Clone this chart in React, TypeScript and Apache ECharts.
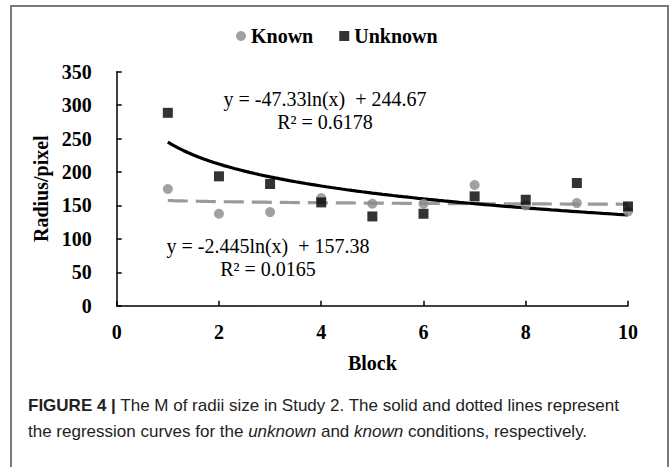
import React, { useEffect, useRef } from "react";
import * as echarts from "echarts";

// Data
const blocks = [1, 2, 3, 4, 5, 6, 7, 8, 9, 10];
const knownValues = [174.5, 137.5, 140, 161, 152.5, 152.5, 180.5, 150, 153.5, 141];
const unknownValues = [288.5, 193.5, 182, 154.5, 133.5, 137.5, 163.5, 158.5, 183.5, 148.5];

// Logarithmic trendline coefficients printed on the chart: y = a*ln(x) + b
const unknownTrend = { a: -47.33, b: 244.67 };
const knownTrend = { a: -2.445, b: 157.38 };

const unknownEqLines = ["y = -47.33ln(x)  + 244.67", "R² = 0.6178"];
const knownEqLines = ["y = -2.445ln(x)  + 157.38", "R² = 0.0165"];

const legendNames = ["Known", "Unknown"];
const xAxisName = "Block";
const yAxisName = "Radius/pixel";

const SERIF = "'Liberation Serif', 'Times New Roman', serif";
const SANS = "'Liberation Sans', Arial, sans-serif";

function trendPoints(t: { a: number; b: number }): number[][] {
  const pts: number[][] = [];
  const first = blocks[0];
  const last = blocks[blocks.length - 1];
  const steps = 90;
  for (let i = 0; i <= steps; i++) {
    const x = first + ((last - first) * i) / steps;
    pts.push([x, t.a * Math.log(x) + t.b]);
  }
  return pts;
}

export default function App() {
  const ref = useRef<HTMLDivElement>(null);

  useEffect(() => {
    document.body.style.margin = "0";
    if (!ref.current) return;
    const chart = echarts.init(ref.current, undefined, { renderer: "svg" });

    const eqText = (lines: string[], cx: number, cy: number) => ({
      type: "text",
      x: cx,
      y: cy,
      style: {
        text: lines.join("\n"),
        font: `20px ${SERIF}`,
        fill: "#000",
        align: "center",
        verticalAlign: "middle",
        lineHeight: 23,
      },
      z: 10,
    });

    chart.setOption({
      animation: false,
      backgroundColor: "#fff",
      grid: {
        left: 116.7,
        right: 42,
        top: 71.7,
        bottom: 161.3,
        containLabel: false,
        outerBoundsMode: "none",
      },
      legend: {
        data: [
          { name: legendNames[0], icon: "circle" },
          { name: legendNames[1], icon: "rect" },
        ],
        left: 231,
        top: 21,
        itemWidth: 10,
        itemHeight: 10,
        itemGap: 26,
        textStyle: {
          fontFamily: SERIF,
          fontWeight: "bold",
          fontSize: 20,
          color: "#000",
        },
      },
      xAxis: {
        type: "value",
        min: 0,
        max: 10,
        interval: 2,
        name: xAxisName,
        nameLocation: "middle",
        nameGap: 47,
        nameTextStyle: { fontFamily: SERIF, fontWeight: "bold", fontSize: 20, color: "#000" },
        axisLine: { show: true, lineStyle: { color: "#000", width: 1.5 } },
        axisTick: { show: true, inside: true, length: 5, lineStyle: { color: "#000", width: 1.5 } },
        axisLabel: { margin: 16, fontFamily: SERIF, fontWeight: "bold", fontSize: 20, color: "#000" },
        splitLine: { show: false },
      },
      yAxis: {
        type: "value",
        min: 0,
        max: 350,
        interval: 50,
        name: yAxisName,
        nameLocation: "middle",
        nameRotate: 90,
        nameGap: 61,
        nameTextStyle: { fontFamily: SERIF, fontWeight: "bold", fontSize: 20, color: "#000" },
        axisLine: { show: true, lineStyle: { color: "#000", width: 1.5 } },
        axisTick: { show: true, inside: true, length: 5, lineStyle: { color: "#000", width: 1.5 } },
        axisLabel: { margin: 25, fontFamily: SERIF, fontWeight: "bold", fontSize: 20, color: "#000" },
        splitLine: { show: false },
      },
      series: [
        {
          name: "Known trend",
          type: "line",
          data: trendPoints(knownTrend),
          showSymbol: false,
          symbol: "none",
          smooth: false,
          lineStyle: { color: "#9a9a9a", width: 3.2, type: [20, 8] },
          z: 2,
          silent: true,
        },
        {
          name: "Unknown trend",
          type: "line",
          data: trendPoints(unknownTrend),
          showSymbol: false,
          symbol: "none",
          lineStyle: { color: "#000", width: 3.2 },
          z: 3,
          silent: true,
        },
        {
          name: legendNames[0],
          type: "scatter",
          symbol: "circle",
          symbolSize: 10,
          itemStyle: { color: "#8a8a8a" },
          data: blocks.map((b, i) => [b, knownValues[i]]),
          z: 4,
        },
        {
          name: legendNames[1],
          type: "scatter",
          symbol: "rect",
          symbolSize: 10,
          itemStyle: { color: "#000" },
          data: blocks.map((b, i) => [b, unknownValues[i]]),
          z: 5,
        },
      ],
      graphic: [
        {
          type: "rect",
          shape: { x: 11, y: 6, width: 657, height: 500 },
          style: { fill: "none", stroke: "#7a7a7a", lineWidth: 2 },
          silent: true,
          z: 0,
        },
        eqText(unknownEqLines, 325, 110),
        eqText(knownEqLines, 268, 257),
        {
          type: "text",
          x: 28,
          y: 405,
          style: {
            text: "{b|FIGURE 4 |} The M of radii size in Study 2. The solid and dotted lines represent",
            font: `17px ${SANS}`,
            fill: "#222",
            verticalAlign: "middle",
            rich: {
              b: { font: `bold 17px ${SANS}`, fill: "#222" },
            },
          },
        },
        {
          type: "text",
          x: 28,
          y: 431,
          style: {
            text: "the regression curves for the {i|unknown} and {i|known} conditions, respectively.",
            font: `17px ${SANS}`,
            fill: "#222",
            verticalAlign: "middle",
            rich: {
              i: { font: `italic 17px ${SANS}`, fill: "#222" },
            },
          },
        },
      ],
    });

    return () => {
      chart.dispose();
    };
  }, []);

  return <div ref={ref} style={{ width: 670, height: 467 }} />;
}
